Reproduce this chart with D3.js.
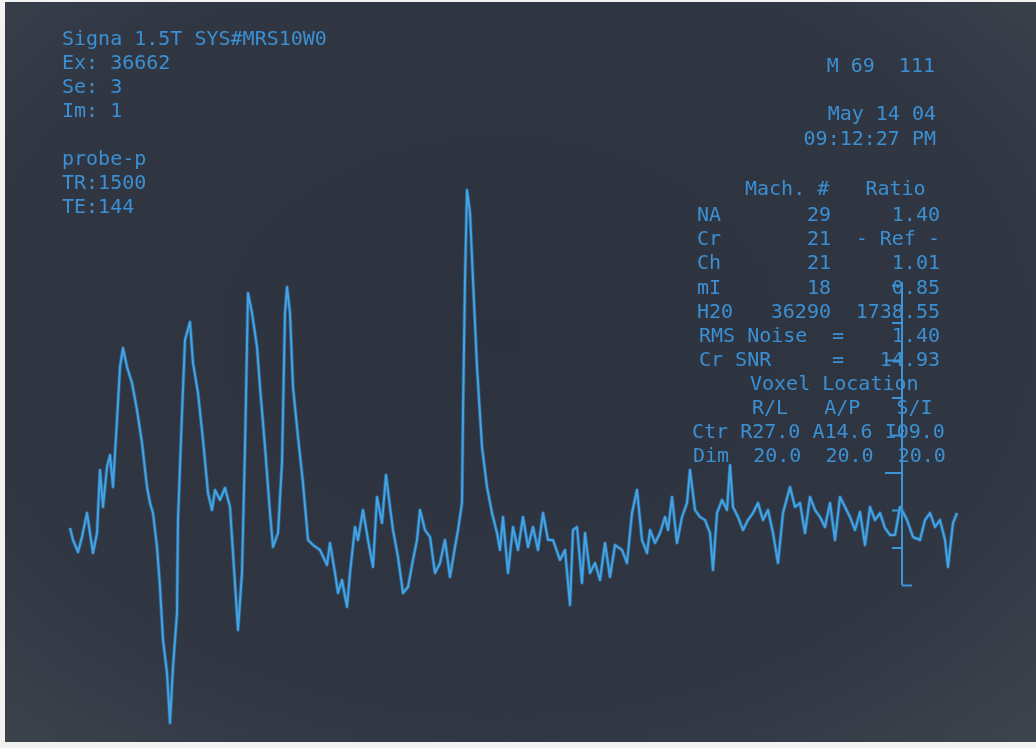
<!DOCTYPE html>
<html>
<head>
<meta charset="utf-8">
<script src="https://cdn.jsdelivr.net/npm/d3@7"></script>
<style>
  html, body { margin: 0; padding: 0; background: #f2f2f0; }
  svg { display: block; }
  .crt text { font-family: "DejaVu Sans Mono", "Liberation Mono", monospace; font-size: 20px; fill: #3b8fd2; white-space: pre; }
</style>
</head>
<body>
<div id="screen"></div>
<script>
// spectrum: channel index (left -> right) and signal (arbitrary units)
const channels = [0,3,8,12,17,20,23,27,30,33,37,40,43,47,50,53,57,62,67,72,77,80,83,87,90,93,97,100,103,107,
  108,112,115,120,123,128,133,138,142,145,150,155,160,163,168,172,175,178,182,187,190,195,200,203,208,212,215,217,220,223,
  228,233,238,243,250,257,260,265,268,272,277,280,285,288,293,298,303,307,312,316,320,323,328,333,338,343,347,350,355,360,
  365,370,375,380,385,388,392,393,395,397,400,403,407,412,417,422,427,430,433,438,443,448,453,458,463,468,473,478,483,490,
  495,500,503,507,512,515,520,525,530,535,540,545,552,557,562,567,572,577,580,585,590,595,598,602,607,612,617,620,625,630,
  635,640,643,647,652,657,660,663,668,673,678,683,688,693,698,703,708,713,720,725,730,735,740,745,750,755,760,765,770,775,
  780,785,790,795,800,805,810,815,820,825,830,833,837,843,850,855,860,865,870,875,878,883,887];
const signal = [2,-10,-22,-7,17,-3,-23,-3,60,23,63,75,43,110,163,182,163,147,120,87,43,27,17,-17,-57,-110,-143,-193,-137,-83,
  10,117,190,208,167,137,90,37,20,40,30,42,23,-23,-100,-43,83,237,217,183,143,83,17,-17,-3,67,217,243,217,143,
  93,47,-10,-15,-20,-35,-13,-43,-63,-50,-77,-43,3,-10,20,-10,-37,33,7,55,23,0,-27,-63,-57,-30,-10,20,0,-7,
  -43,-33,-10,-47,-17,0,27,117,250,340,317,250,163,83,43,17,-3,-20,13,-43,3,-20,13,-17,3,-20,17,-10,-10,-30,
  -20,-75,0,3,-53,-3,-43,-33,-50,-13,-47,-15,-20,-33,17,40,-10,-23,0,-13,-3,13,0,33,-13,13,27,60,20,13,
  10,-3,-40,17,30,20,65,23,13,0,10,17,27,10,20,-3,-33,17,43,23,27,-3,33,20,13,3,27,-10,33,23,
  13,0,18,-15,23,10,17,2,-5,-5,23,18,10,-7,-10,10,17,3,10,-10,-37,7,17];

// vertical reference scale drawn on the right of the trace
const refChannel = 832;
const refTicks = d3.range(-55, 246, 37.5);
const refMajor = [-55, 57.5, 170];

// header text
const leftLines = ["Signa 1.5T SYS#MRS10W0", "Ex: 36662", "Se: 3", "Im: 1", "", "probe-p", "TR:1500", "TE:144"];
const examLine = "M 69  111";
const dateLines = ["May 14 04", "09:12:27 PM"];

// metabolite table
const metabolites = ["NA", "Cr", "Ch", "mI", "H20"];
const machNumbers = ["29", "21", "21", "18", "36290"];
const ratios = ["1.40", "- Ref -", "1.01", "0.85", "1738.55"];
const noiseLabels = ["RMS Noise", "Cr SNR"];
const noiseValues = ["1.40", "14.93"];
const voxelLines = ["Voxel Location", "R/L   A/P   S/I", "Ctr R27.0 A14.6 I09.0", "Dim  20.0  20.0  20.0"];

var width = 1036, height = 748;

var svg = d3.select("#screen")
            .append("svg")
            .attr("width", width)
            .attr("height", height);

var defs = svg.append("defs");
var grad = defs.append("radialGradient")
               .attr("id", "tube")
               .attr("cx", "48%").attr("cy", "45%").attr("r", "75%");
grad.append("stop").attr("offset", "0%").attr("stop-color", "#2c333e");
grad.append("stop").attr("offset", "70%").attr("stop-color", "#303743");
grad.append("stop").attr("offset", "100%").attr("stop-color", "#3d444e");

var glow = defs.append("filter").attr("id", "glow")
               .attr("x", "-5%").attr("y", "-5%").attr("width", "110%").attr("height", "110%");
glow.append("feGaussianBlur").attr("stdDeviation", 0.6);

// screen (photo has a light border left, top and bottom)
svg.append("rect")
    .attr("x", 5).attr("y", 2)
    .attr("width", width - 5).attr("height", height - 8)
    .attr("fill", "url(#tube)");

// scales
var x = d3.scaleLinear()
          .domain([0, 887])
          .range([70, 957]);

var y = d3.scaleLinear()
          .domain([-230, 380])
          .range([760, 150]);

// trace
var line = d3.line()
             .x(function(d, i) { return x(channels[i]); })
             .y(function(d) { return y(d); })
             .curve(d3.curveLinear);

svg.append("path")
    .datum(signal)
    .attr("d", line)
    .attr("fill", "none")
    .attr("stroke", "#2f86c8")
    .attr("stroke-width", 3.6)
    .attr("stroke-linejoin", "round")
    .attr("opacity", 0.55)
    .attr("filter", "url(#glow)");

svg.append("path")
    .datum(signal)
    .attr("d", line)
    .attr("fill", "none")
    .attr("stroke", "#43a3e4")
    .attr("stroke-width", 2)
    .attr("stroke-linejoin", "round");

// reference axis
var refAxis = svg.append("g")
                 .attr("transform", "translate(" + x(refChannel) + ",0)")
                 .call(d3.axisLeft(y)
                         .tickValues(refTicks)
                         .tickSize(10)
                         .tickFormat(""));
refAxis.select(".domain").remove();
refAxis.selectAll(".tick line")
       .attr("stroke", "#3b95d8")
       .attr("stroke-width", 2)
       .attr("x2", function(d) {
           if (d === refTicks[0]) return 10;
           return refMajor.indexOf(d) >= 0 ? -17 : -10;
       });
refAxis.append("line")
       .attr("y1", y(refTicks[0]))
       .attr("y2", y(refTicks[refTicks.length - 1]) - 3)
       .attr("stroke", "#3b95d8")
       .attr("stroke-width", 2);

// text
var txt = svg.append("g").attr("class", "crt").attr("filter", "url(#glow)");

function crtText(sel) {
    return sel.attr("xml:space", "preserve").style("white-space", "pre");
}

crtText(txt.selectAll("text.left")
   .data(leftLines)
   .enter()
   .append("text")
   .attr("class", "left")
   .attr("x", 62)
   .attr("y", function(d, i) { return 45 + i * 24; })
   .text(function(d) { return d; }));

crtText(txt.append("text")
   .attr("x", 935).attr("y", 72)
   .attr("text-anchor", "end")
   .text(examLine));

crtText(txt.selectAll("text.date")
   .data(dateLines)
   .enter()
   .append("text")
   .attr("class", "date")
   .attr("x", 936)
   .attr("y", function(d, i) { return 120 + i * 25; })
   .attr("text-anchor", "end")
   .text(function(d) { return d; }));

crtText(txt.append("text")
   .attr("x", 745).attr("y", 195)
   .text("Mach. #   Ratio"));

var rowY = function(i) { return 221 + i * 24.2; };

txt.selectAll("text.met")
   .data(metabolites)
   .enter()
   .append("text")
   .attr("class", "met")
   .attr("x", 697)
   .attr("y", function(d, i) { return rowY(i); })
   .text(function(d) { return d; });

txt.selectAll("text.mach")
   .data(machNumbers)
   .enter()
   .append("text")
   .attr("class", "mach")
   .attr("x", 831)
   .attr("y", function(d, i) { return rowY(i); })
   .attr("text-anchor", "end")
   .text(function(d) { return d; });

txt.selectAll("text.ratio")
   .data(ratios)
   .enter()
   .append("text")
   .attr("class", "ratio")
   .attr("x", 940)
   .attr("y", function(d, i) { return rowY(i); })
   .attr("text-anchor", "end")
   .text(function(d) { return d; });

noiseLabels.forEach(function(label, i) {
    var yy = 341.5 + i * 24;
    txt.append("text").attr("x", 699).attr("y", yy).text(label);
    txt.append("text").attr("x", 832).attr("y", yy).text("=");
    txt.append("text").attr("x", 940).attr("y", yy).attr("text-anchor", "end").text(noiseValues[i]);
});

var voxelX = [750, 752, 692, 693];
crtText(txt.selectAll("text.vox")
   .data(voxelLines)
   .enter()
   .append("text")
   .attr("class", "vox")
   .attr("x", function(d, i) { return voxelX[i]; })
   .attr("y", function(d, i) { return 389.5 + i * 24; })
   .text(function(d) { return d; }));
</script>
</body>
</html>
